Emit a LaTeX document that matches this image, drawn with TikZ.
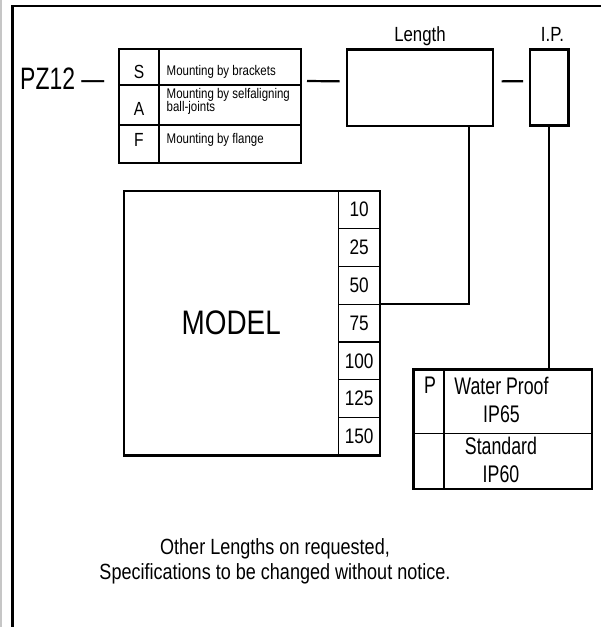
\documentclass[tikz,border=0pt]{standalone}
\usepackage{fontspec}
\setmainfont{Liberation Sans}[FakeStretch=0.82]
\newfontfamily\tallfont{Liberation Sans}[FakeStretch=0.74]
\usetikzlibrary{positioning,fit,calc}
\newcommand{\tightskip}{\lineskiplimit=-20pt\relax}
\tikzset{
  outer/.style={draw, line width=2.4pt, inner sep=0pt, outer sep=0pt},
  cell/.style={draw, line width=1.2pt, inner sep=0pt, outer sep=0pt},
  wire/.style={line width=2.2pt},
  tag/.style={inner sep=0pt, font=\tallfont\fontsize{31}{36}\selectfont},
  letter/.style={inner sep=0pt, font=\fontsize{19}{22}\selectfont},
  note/.style={inner sep=0pt, align=left, font=\fontsize{14}{13.2}\selectfont\tightskip},
  head/.style={inner sep=0pt, font=\fontsize{20.5}{24}\selectfont},
  num/.style={cell, minimum width=41.7pt, minimum height=37.8pt, font=\fontsize{21}{24}\selectfont},
  ptxt/.style={inner sep=0pt, align=center, font=\tallfont\fontsize{24}{28}\selectfont\tightskip},
  foot/.style={inner sep=0pt, align=center, font=\fontsize{22}{25}\selectfont\tightskip}
}
\begin{document}
\begin{tikzpicture}[x=1pt, y=-1pt]
\useasboundingbox (0,0) rectangle (601,627);
% page frame
\draw[gray!45, line width=1.8pt] (1,0) -- (1,627);
\draw[line width=2.8pt] (12.5,627) -- (12.5,6) -- (601,6);

% ordering code
\node[tag, anchor=base west] (pz) at (20,89) {PZ12 —};

% mounting table
\node[cell, minimum width=40pt, minimum height=36pt] (cs) at (139,67) {};
\node[cell, minimum width=40pt, minimum height=40pt] (ca) at (139,105) {};
\node[cell, minimum width=40pt, minimum height=38pt] (cf) at (139,144) {};
\node[cell, minimum width=142pt, minimum height=36pt] (ts) at (230,67) {};
\node[cell, minimum width=142pt, minimum height=40pt] (ta) at (230,105) {};
\node[cell, minimum width=142pt, minimum height=38pt] (tf) at (230,144) {};
\node[outer, fit=(cs)(tf)] (saf) {};
\node[letter, anchor=base] (ls) at (139,78) {S};
\node[letter, anchor=base] (la) at (139,115) {A};
\node[letter, anchor=base] (lf) at (139,146.7) {F};
\node[note, anchor=base west] (ns) at (166.5,75) {Mounting by brackets};
\node[note, anchor=base west] (na) at (166.5,111.7) {Mounting by selfaligning\\ball-joints};
\node[note, anchor=base west] (nf) at (166.5,143.3) {Mounting by flange};

% length and protection boxes
\node[outer, minimum width=146pt, minimum height=76.5pt] (len) at (419.7,87.6) {};
\node[outer, minimum width=38.3pt, minimum height=76pt] (ip) at (549.2,87.3) {};
\node[head, anchor=base] (lenlbl) at (420,41.7) {Length};
\node[head, anchor=base] (iplbl) at (552.5,41.7) {I.P.};
\draw[wire] ($(saf.north east)+(6,32)$) -- ($(len.north west)+(-7,32)$);
\draw[wire] ($(len.north east)+(9,32)$) -- ($(ip.north west)+(-7,32)$);

% model and length table
\node[cell, minimum width=214.3pt, minimum height=264.6pt, font=\fontsize{34}{40}\selectfont] (model) at (231.2,323) {MODEL};
\foreach \v [count=\i] in {10,25,50,75,100,125,150}
  \node[num] (n\i) at (359.2,{190.7+37.8*\i-18.9}) {\v};
\node[outer, fit=(model)(n1)(n7)] (mtab) {};
\draw[wire] ([xshift=49.3pt]len.south) |- (n3.south east);

% protection table
\node[cell, minimum width=30.7pt, minimum height=64pt] (pa) at (428.7,401.3) {};
\node[cell, minimum width=30.7pt, minimum height=55.7pt] (pb) at (428.7,461.15) {};
\node[cell, minimum width=147.7pt, minimum height=64pt] (wa) at (517.85,401.3) {};
\node[cell, minimum width=147.7pt, minimum height=55.7pt] (wb) at (517.85,461.15) {};
\node[outer, fit=(pa)(wb)] (ptab) {};
\node[ptxt, anchor=base] (pl) at (430,393.3) {P};
\node[ptxt] (wl) at (501.5,400) {Water Proof\\IP65};
\node[ptxt] (sl) at (501,460) {Standard\\IP60};
\draw[wire] (ip.south) -- (ip.south |- ptab.north);

% footnote
\node[foot] (foot) at (275,561.8) {Other Lengths on requested,\\Specifications to be changed without notice.};
\end{tikzpicture}
\end{document}
